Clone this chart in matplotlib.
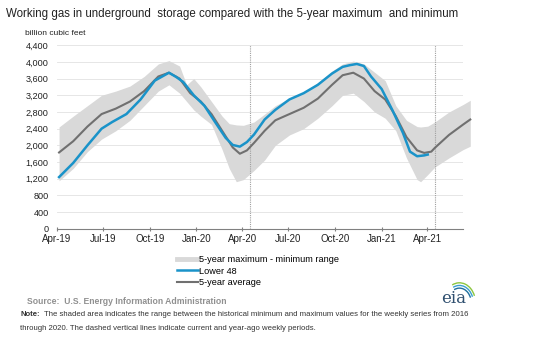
import matplotlib
matplotlib.use("Agg")
import matplotlib.pyplot as plt
import matplotlib.dates as mdates
from matplotlib.lines import Line2D
from matplotlib.patches import Arc
import pandas as pd

plt.rcParams['font.family'] = ['Liberation Sans', 'DejaVu Sans']

# Lower 48 working gas (billion cubic feet)
lower48_dates = ['2019-04-05', '2019-05-03', '2019-05-31', '2019-06-28', '2019-07-19', '2019-08-16',
                 '2019-09-13', '2019-10-11', '2019-11-08', '2019-11-22', '2019-12-06', '2019-12-27',
                 '2020-01-17', '2020-02-07', '2020-02-28', '2020-03-13', '2020-03-27', '2020-04-10',
                 '2020-04-24', '2020-05-15', '2020-06-05', '2020-07-03', '2020-07-31', '2020-08-28',
                 '2020-09-25', '2020-10-16', '2020-10-30', '2020-11-13', '2020-11-27', '2020-12-11',
                 '2021-01-01', '2021-01-22', '2021-02-12', '2021-02-26', '2021-03-12', '2021-03-26',
                 '2021-04-02']
lower48 = [1240, 1580, 2000, 2400, 2560, 2750,
           3100, 3550, 3740, 3640, 3520, 3200,
           2950, 2560, 2180, 2010, 1970, 2080,
           2260, 2620, 2850, 3100, 3250, 3450,
           3720, 3880, 3920, 3950, 3900, 3650,
           3350, 2850, 2300, 1850, 1740, 1760,
           1780]

# 5-year average
avg_dates = ['2019-04-05', '2019-05-03', '2019-05-31', '2019-06-28', '2019-07-26', '2019-08-23',
             '2019-09-20', '2019-10-18', '2019-11-08', '2019-11-29', '2019-12-20', '2020-01-10',
             '2020-01-31', '2020-02-21', '2020-03-13', '2020-03-27', '2020-04-10', '2020-04-24',
             '2020-05-15', '2020-06-05', '2020-07-03', '2020-07-31', '2020-08-28', '2020-09-25',
             '2020-10-16', '2020-11-06', '2020-11-27', '2020-12-18', '2021-01-08', '2021-01-29',
             '2021-02-19', '2021-03-12', '2021-03-26', '2021-04-09', '2021-04-16', '2021-05-14',
             '2021-06-11', '2021-06-25']
avg5 = [1830, 2100, 2450, 2750, 2880, 3050,
        3300, 3650, 3740, 3600, 3250, 3050,
        2750, 2350, 1950, 1800, 1880, 2060,
        2350, 2600, 2750, 2900, 3120, 3450,
        3680, 3740, 3600, 3300, 3100, 2700,
        2200, 1880, 1820, 1850, 1940, 2250,
        2500, 2620]

# 5-year maximum - minimum range
range_dates = ['2019-04-05', '2019-05-03', '2019-05-31', '2019-06-28', '2019-07-26', '2019-08-23',
               '2019-09-20', '2019-10-18', '2019-11-08', '2019-11-29', '2019-12-13', '2019-12-27',
               '2020-01-10', '2020-01-31', '2020-02-21', '2020-03-06', '2020-03-20', '2020-04-03',
               '2020-04-24', '2020-05-15', '2020-06-05', '2020-07-03', '2020-07-31', '2020-08-28',
               '2020-09-25', '2020-10-16', '2020-11-06', '2020-11-27', '2020-12-18', '2021-01-08',
               '2021-01-29', '2021-02-19', '2021-03-12', '2021-03-19', '2021-04-02', '2021-04-16',
               '2021-05-14', '2021-06-11', '2021-06-25']
range_max = [2440, 2700, 2950, 3200, 3300, 3420,
             3650, 3950, 4030, 3900, 3450, 3600,
             3400, 3050, 2700, 2520, 2490, 2480,
             2560, 2750, 2950, 3130, 3280, 3500,
             3780, 3950, 4020, 3950, 3750, 3550,
             2950, 2600, 2450, 2440, 2460, 2560,
             2800, 2980, 3080]
range_min = [1150, 1450, 1850, 2150, 2350, 2600,
             2950, 3300, 3450, 3250, 3050, 2850,
             2700, 2500, 1900, 1450, 1130, 1180,
             1400, 1650, 2000, 2250, 2400, 2650,
             2950, 3200, 3250, 3050, 2800, 2650,
             2350, 1700, 1180, 1130, 1300, 1480,
             1700, 1900, 1980]

period_lines = ['2020-04-17', '2021-04-16']
tick_dates = ['2019-04-01', '2019-07-01', '2019-10-01', '2020-01-01', '2020-04-01',
              '2020-07-01', '2020-10-01', '2021-01-01', '2021-04-01']
tick_labels = ['Apr-19', 'Jul-19', 'Oct-19', 'Jan-20', 'Apr-20', 'Jul-20', 'Oct-20', 'Jan-21', 'Apr-21']

BLUE = '#1a93c9'
GRAY = '#707070'
SHADE = '#d9d9d9'

fig = plt.figure(figsize=(5.33, 3.5), dpi=100)
ax = fig.add_axes([0.107, 0.346, 0.762, 0.525])

ax.fill_between(pd.to_datetime(range_dates), range_min, range_max, color=SHADE, lw=0, zorder=1,
                clip_on=False)
ax.plot(pd.to_datetime(avg_dates), avg5, color=GRAY, lw=1.5, zorder=3, clip_on=False)
ax.plot(pd.to_datetime(lower48_dates), lower48, color=BLUE, lw=1.8, zorder=4)
for d in period_lines:
    ax.axvline(pd.Timestamp(d), color='#a0a0a0', lw=0.8, ls=(0, (1, 1)), zorder=2)

ax.set_ylim(0, 4400)
ax.set_yticks(range(0, 4401, 400))
ax.yaxis.set_major_formatter(matplotlib.ticker.FuncFormatter(lambda v, p: f'{int(v):,}'))
ax.grid(axis='y', color='#e6e6e6', lw=0.7, zorder=0)
ax.set_axisbelow(True)
ax.set_xlim(pd.Timestamp('2019-04-01'), pd.Timestamp('2021-06-11'))
ax.set_xticks(pd.to_datetime(tick_dates))
ax.set_xticklabels(tick_labels)
for s in ['top', 'right', 'left']:
    ax.spines[s].set_visible(False)
ax.spines['bottom'].set_color('#808080')
ax.tick_params(axis='y', length=0, labelsize=6.6, pad=6, labelcolor='#222222')
ax.tick_params(axis='x', length=3, direction='inout', color='#808080', labelsize=7, pad=2,
               labelcolor='#222222')

fig.text(0.012, 0.96, 'Working gas in underground  storage compared with the 5-year maximum  and minimum',
         fontsize=8.3, color='#222222', va='center')
fig.text(0.047, 0.905, 'billion cubic feet', fontsize=6, color='#222222', va='center')

handles = [Line2D([], [], color=SHADE, lw=3.5),
           Line2D([], [], color=BLUE, lw=1.8),
           Line2D([], [], color=GRAY, lw=1.5)]
labels = ['5-year maximum - minimum range', 'Lower 48', '5-year average']
fig.legend(handles, labels, loc='upper left', bbox_to_anchor=(0.333, 0.272), frameon=False,
           fontsize=6.6, handlelength=2.2, handletextpad=0.1, labelspacing=0.3,
           borderpad=0, borderaxespad=0)

fig.text(0.05, 0.14, 'Source:  U.S. Energy Information Administration', fontsize=6.2,
         color='#909090', fontweight='bold', va='center')
fig.text(0.038, 0.102, 'Note:', fontsize=5.6, color='#333333', fontweight='bold', va='center')
fig.text(0.078, 0.102, ' The shaded area indicates the range between the historical minimum and maximum values for the weekly series from 2016',
         fontsize=5.6, color='#333333', va='center')
fig.text(0.038, 0.062, 'through 2020. The dashed vertical lines indicate current and year-ago weekly periods.',
         fontsize=5.6, color='#333333', va='center')

# eia logo
fig.text(0.852, 0.148, 'eia', fontsize=12, family='DejaVu Serif', color='#2f4f6f', ha='center', va='center')
for w, c in [(0.06, '#8cc63f'), (0.052, '#3aa0d0'), (0.044, '#1f6f9f')]:
    fig.add_artist(Arc((0.862, 0.135), w, w * 1.9, theta1=35, theta2=105, color=c, lw=1.0,
                       transform=fig.transFigure))

fig.savefig('out.png', dpi=100)
